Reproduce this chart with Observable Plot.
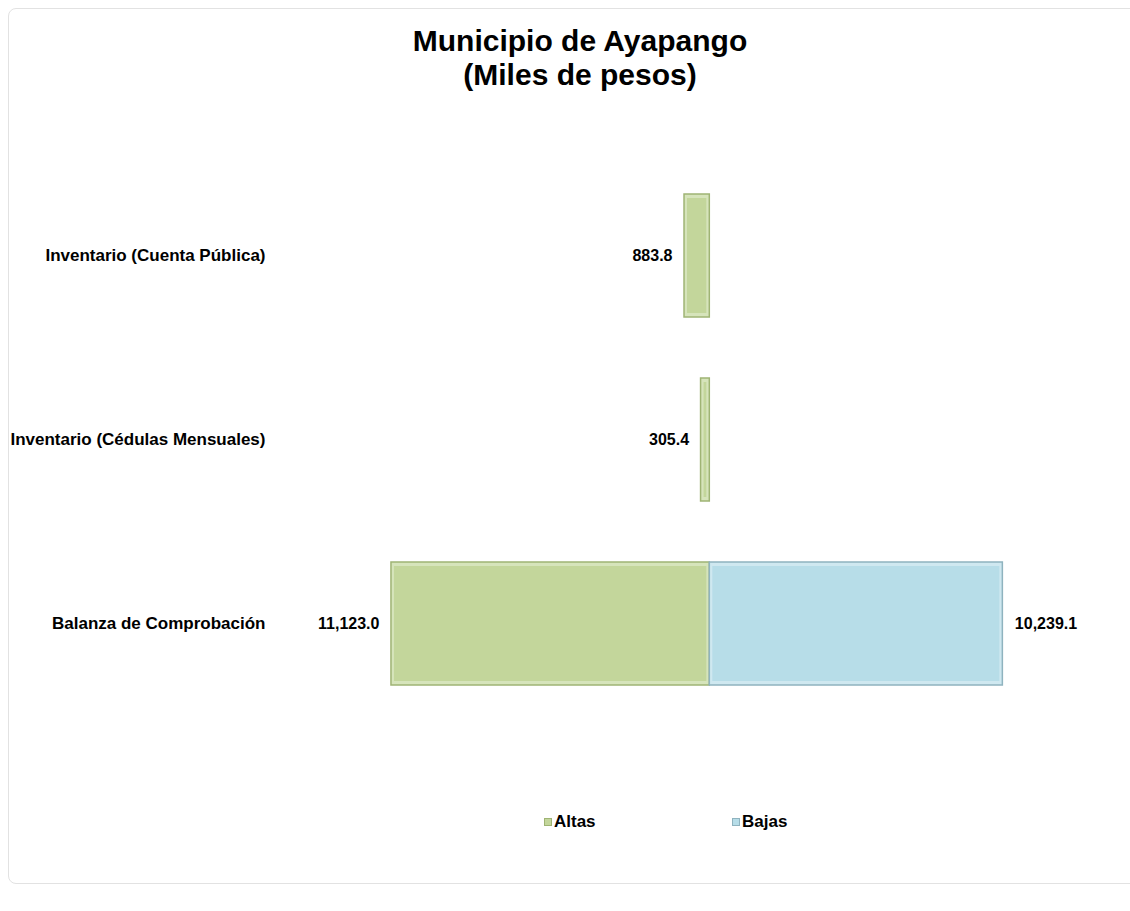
<!DOCTYPE html>
<html>
<head>
<meta charset="utf-8">
<script src="https://cdn.jsdelivr.net/npm/d3@7"></script>
<script src="https://cdn.jsdelivr.net/npm/@observablehq/plot@0.6"></script>
<style>
  body { margin: 0; background: #fff; font-family: "Liberation Sans", Arial, sans-serif; }
  #wrap { position: relative; width: 1130px; height: 911px; overflow: hidden; }
  #frame { position: absolute; left: 8px; top: 8px; width: 1140px; height: 876px; border: 1px solid #e2e2e2; border-radius: 8px; box-sizing: border-box; }
  #title { position: absolute; left: 0; top: 24px; width: 1160px; text-align: center; font-weight: bold; font-size: 30px; line-height: 34px; color: #000; }
  #chart { position: absolute; left: 0; top: 130px; }
  #legend { position: absolute; top: 812px; left: 0; width: 1130px; height: 20px; font-weight: bold; font-size: 17px; color: #000; }
  .item { position: absolute; top: 0; display: flex; align-items: center; line-height: 20px; }
  .sw { width: 6px; height: 6px; margin-right: 2px; }
</style>
</head>
<body>
<div id="wrap">
  <div id="frame"></div>
  <div id="title">Municipio de Ayapango<br>(Miles de pesos)</div>
  <div id="chart"></div>
  <div id="legend"></div>
</div>
<script>
const categorias = ["Inventario (Cuenta Pública)", "Inventario (Cédulas Mensuales)", "Balanza de Comprobación"];
const altas = [883.8, 305.4, 11123.0];
const bajas = [null, null, 10239.1];
const series = ["Altas", "Bajas"];
const colores = ["#C3D69B", "#B7DDE8"];
const bordes = ["#9fb474", "#8fb3bf"];
const claros = ["#d6e4bb", "#cfe8f0"];

const rows = categorias.map((c, i) => ({categoria: c, altas: altas[i], bajas: bajas[i]}));
const rowsBajas = rows.filter(d => d.bajas != null);
const fmt = d3.format(",.1f");

const plot = Plot.plot({
  width: 1130,
  height: 620,
  marginTop: 2,
  marginBottom: 2,
  marginLeft: 280,
  marginRight: 20,
  style: {fontFamily: "'Liberation Sans', Arial, sans-serif", fontSize: "16px", fontWeight: "bold", color: "#000", background: "transparent"},
  x: {domain: [-15000, 14000], axis: null},
  y: {domain: categorias, padding: 0.33, label: null},
  marks: [
    Plot.axisY({tickSize: 0, tickPadding: 15, fontSize: 17, fontWeight: "bold", label: null}),
    Plot.barX(rows, {y: "categoria", x1: 0, x2: d => -d.altas, fill: claros[0], stroke: bordes[0], strokeWidth: 1.5}),
    Plot.barX(rows, {y: "categoria", x1: 0, x2: d => -d.altas, fill: colores[0], insetTop: 4, insetBottom: 4, insetLeft: 3, insetRight: 3}),
    Plot.barX(rowsBajas, {y: "categoria", x1: 0, x2: "bajas", fill: claros[1], stroke: bordes[1], strokeWidth: 1.5}),
    Plot.barX(rowsBajas, {y: "categoria", x1: 0, x2: "bajas", fill: colores[1], insetTop: 4, insetBottom: 4, insetLeft: 3, insetRight: 3}),
    Plot.text(rows, {y: "categoria", x: d => -d.altas, text: d => fmt(d.altas), textAnchor: "end", dx: -12, fontSize: 16, fontWeight: "bold", fill: "#000"}),
    Plot.text(rowsBajas, {y: "categoria", x: "bajas", text: d => fmt(d.bajas), textAnchor: "start", dx: 12, fontSize: 16, fontWeight: "bold", fill: "#000"})
  ]
});
document.getElementById("chart").appendChild(plot);

const legend = document.getElementById("legend");
const lefts = [544, 732];
series.forEach((s, i) => {
  const it = document.createElement("div");
  it.className = "item";
  it.style.left = lefts[i] + "px";
  const sw = document.createElement("span");
  sw.className = "sw";
  sw.style.background = colores[i];
  sw.style.border = "1px solid " + bordes[i];
  it.appendChild(sw);
  const t = document.createElement("span");
  t.textContent = s;
  it.appendChild(t);
  legend.appendChild(it);
});
</script>
</body>
</html>
